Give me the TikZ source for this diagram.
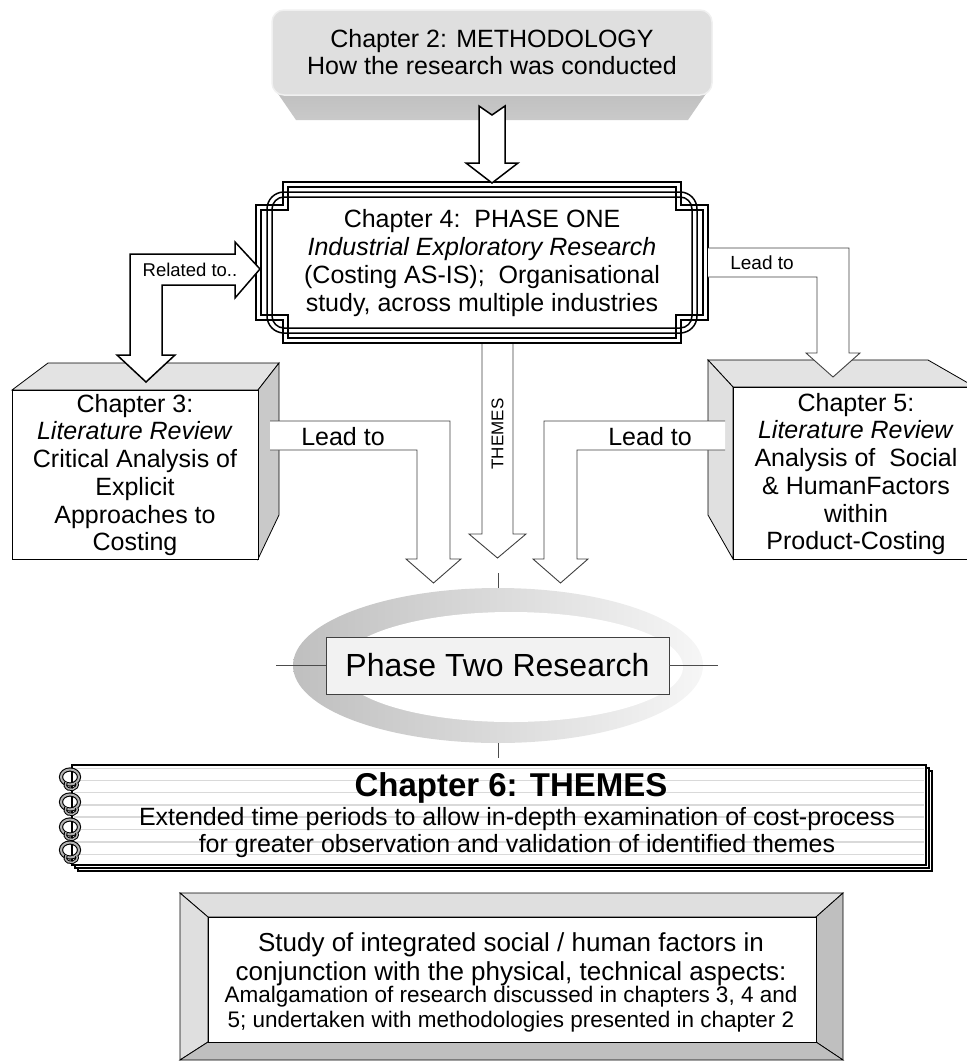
\documentclass[tikz,border=0pt]{standalone}
\usepackage{fontspec}
\setmainfont{Liberation Sans}
\usetikzlibrary{shapes.geometric}
% notched rectangle: left, top, right, bottom, notch width, notch height, style
\newcommand\notchframe[7]{\path[#7] (#1,#4-#6) -- (#1,#2+#6) -- (#1+#5,#2+#6) -- (#1+#5,#2) -- (#3-#5,#2) -- (#3-#5,#2+#6) -- (#3,#2+#6) -- (#3,#4-#6) -- (#3-#5,#4-#6) -- (#3-#5,#4) -- (#1+#5,#4) -- (#1+#5,#4-#6) -- cycle;}
\begin{document}
\begin{tikzpicture}[x=1pt,y=-1pt,line join=miter,
  txt/.style={inner sep=0pt,align=center,font=\fontsize{25}{27.7}\selectfont},
  smalltxt/.style={inner sep=0pt,font=\fontsize{18.5}{21}\selectfont},
  heavyarrow/.style={draw=black,line width=1.5,fill=white},
  thinarrow/.style={draw=black!75,line width=0.9},
  boxline/.style={draw=black,line width=0.8},
  frameline/.style={draw=black,line width=1.5},
  thinline/.style={draw=black!70,line width=0.8},
  ruled/.style={draw=gray!30,line width=1.4}]
\useasboundingbox (0,0) rectangle (967,1061);
\clip (0,0) rectangle (967,1061);

% ---- Chapter 2 block ----
\shade[top color=gray!52,bottom color=gray!42] (272,85) -- (712,85) -- (688,120) -- (296,120) -- cycle;
\filldraw[fill=gray!25,draw=gray!12,line width=1.5,rounded corners=12] (272,10) rectangle (712,95);
\node[txt,font=\fontsize{25}{27}\selectfont] (ch2) at (492,52) {Chapter 2: METHODOLOGY\\How the research was conducted};

% ---- THEMES arrow (runs under the frame) ----
\path[fill=white] (482,340) -- (482,534) -- (469,534) -- (497.5,558) -- (526,534) -- (513,534) -- (513,340) -- cycle;
\draw[thinarrow] (482,340) -- (482,534) -- (469,534) -- (497.5,558) -- (526,534) -- (513,534) -- (513,340);
\node[rotate=90,inner sep=0pt,font=\fontsize{17}{19}\selectfont] (themes) at (497.5,434) {THEMES};

% ---- Chapter 4 frame ----
\notchframe{256}{182}{708}{343}{27}{23}{fill=white,frameline}
\notchframe{261}{187}{703}{338}{27}{23}{frameline}
\draw[frameline,rounded corners=17] (267,192) rectangle (697,333);
\draw[frameline,rounded corners=12] (272,197) rectangle (692,328);
\node[txt] (ch4) at (482,263) {Chapter 4:\ \ PHASE ONE\\\textit{Industrial Exploratory Research}\\(Costing AS-IS);\ \ Organisational\\study, across multiple industries};

% ---- arrow from Chapter 2 down to Chapter 4 ----
\draw[heavyarrow] (479,106) -- (492,115) -- (505,106) -- (505,163) -- (518,163) -- (492,183) -- (466,163) -- (479,163) -- cycle;

% ---- Chapter 3 block ----
\filldraw[boxline,fill=gray!22] (12,390) -- (48,363) -- (279,363) -- (258,390) -- cycle;
\filldraw[boxline,fill=gray!42] (258,390) -- (279,363) -- (279,515) -- (258,559) -- cycle;
\filldraw[boxline,fill=white] (12,390) rectangle (258,559);
\node[txt] (ch3) at (135,475) {Chapter 3:\\\textit{Literature Review}\\Critical Analysis of\\Explicit\\Approaches to\\Costing};

% ---- Chapter 5 block ----
\filldraw[boxline,fill=gray!22] (708,360) -- (928,360) -- (975,387) -- (733,387) -- cycle;
\filldraw[boxline,fill=gray!24] (708,360) -- (733,387) -- (733,559) -- (708,515) -- cycle;
\filldraw[boxline,fill=white] (733,387) rectangle (975,559);
\node[txt] (ch5) at (856,474) {Chapter 5:\\\textit{Literature Review}\\Analysis of\ \ Social\\\& HumanFactors\\within\\Product-Costing};

% ---- Related to.. double arrow ----
\draw[heavyarrow] (260,269) -- (235,242) -- (235,254) -- (130,254) -- (130,355) -- (117,355) -- (146,382) -- (175,355) -- (162,355) -- (162,285) -- (235,285) -- (235,298) -- cycle;
\node[smalltxt] (rel) at (190,270) {Related to..};

% ---- Lead to: Chapter 4 -> Chapter 5 ----
\path[fill=white] (708,248) -- (849,248) -- (849,353) -- (860,353) -- (833,377) -- (806,353) -- (817,353) -- (817,277) -- (708,277) -- cycle;
\draw[thinarrow] (708,248) -- (849,248) -- (849,353) -- (860,353) -- (833,377) -- (806,353) -- (817,353) -- (817,277) -- (708,277);
\node[inner sep=0pt,font=\fontsize{19}{21}\selectfont] (lead45) at (762,263) {Lead to};

% ---- Lead to: Chapter 3 -> Phase Two ----
\path[fill=white] (270,421) -- (450,421) -- (450,559) -- (461,559) -- (433.5,583) -- (406,559) -- (417,559) -- (417,450) -- (270,450) -- cycle;
\draw[thinarrow] (270,421) -- (450,421) -- (450,559) -- (461,559) -- (433.5,583) -- (406,559) -- (417,559) -- (417,450) -- (270,450);
\node[txt] (lead3) at (343,437) {Lead to};

% ---- Lead to: Chapter 5 -> Phase Two ----
\path[fill=white] (725,421) -- (544,421) -- (544,559) -- (533,559) -- (560.5,583) -- (588,559) -- (577,559) -- (577,450) -- (725,450) -- cycle;
\draw[thinarrow] (725,421) -- (544,421) -- (544,559) -- (533,559) -- (560.5,583) -- (588,559) -- (577,559) -- (577,450) -- (725,450);
\node[txt] (lead5) at (650,437) {Lead to};

% ---- Phase Two ring ----
\node[ellipse,minimum width=410,minimum height=155,inner sep=0pt,left color=gray!50,right color=gray!7] (ring) at (498,665.5) {};
\fill[white] (511,667) ellipse [x radius=172,y radius=55];
\node[draw=black!75,fill=gray!10,minimum width=343,minimum height=57,inner sep=0pt,font=\fontsize{32}{36}\selectfont] (p2) at (497.5,665.5) {Phase Two Research};
\draw[thinline] (p2.west) -- ++(-50,0);
\draw[thinline] (p2.east) -- ++(49,0);
\draw[thinline] (ring.north) -- ++(0,-15);
\draw[thinline] (ring.south) -- ++(0,15);

% ---- Chapter 6 notebook ----
\filldraw[fill=white,draw=black,line width=1.2] (78,771) rectangle (932,871);
\filldraw[fill=white,draw=black,line width=1.2] (75,768) rectangle (929,868);
\fill[white] (72,765) rectangle (926,865);
\foreach \yy in {768.5,780.5,792.5,805,817,829.5,842,854.5}
  \draw[ruled] (74,\yy) -- (924,\yy);
\draw[black,line width=1.6] (72,765) rectangle (926,865);
% spiral binding rings
\foreach \yy in {777,802,827,850}{
  \draw[black,line width=4.2] (70,\yy) ellipse [x radius=9,y radius=7.5];
  \draw[gray!60,line width=2] (70,\yy) ellipse [x radius=9,y radius=7.5];
  \draw[black,line width=3.4] (66,\yy+5) arc[start angle=210,end angle=-20,x radius=6,y radius=5];
  \draw[gray!60,line width=1.4] (66,\yy+5) arc[start angle=210,end angle=-20,x radius=6,y radius=5];
}
\node[inner sep=0pt,font=\fontsize{33}{36}\selectfont\bfseries] (ch6) at (511,788) {Chapter 6: THEMES};
\node[inner sep=0pt,align=center,font=\fontsize{25}{27}\selectfont] (ch6b) at (517,833) {Extended time periods to allow in-depth examination of cost-process\\for greater observation and validation of identified themes};

% ---- summary block ----
\filldraw[boxline,fill=gray!25] (180,893) -- (843,893) -- (816,917) -- (208,917) -- cycle;
\filldraw[boxline,fill=gray!25] (180,893) -- (208,917) -- (208,1042) -- (180,1060) -- cycle;
\filldraw[boxline,fill=gray!50] (843,893) -- (843,1060) -- (816,1042) -- (816,917) -- cycle;
\filldraw[boxline,fill=gray!50] (180,1060) -- (208,1042) -- (816,1042) -- (843,1060) -- cycle;
\filldraw[boxline,fill=white] (208,917) rectangle (816,1042);
\node[inner sep=0pt,align=center,font=\fontsize{26}{29}\selectfont] (sum1) at (511,959) {Study of integrated social / human factors in\\conjunction with the physical, technical aspects:};
\node[inner sep=0pt,align=center,font=\fontsize{22.5}{25}\selectfont] (sum2) at (511,1009) {Amalgamation of research discussed in chapters 3, 4 and\\5; undertaken with methodologies presented in chapter 2};
\end{tikzpicture}
\end{document}
